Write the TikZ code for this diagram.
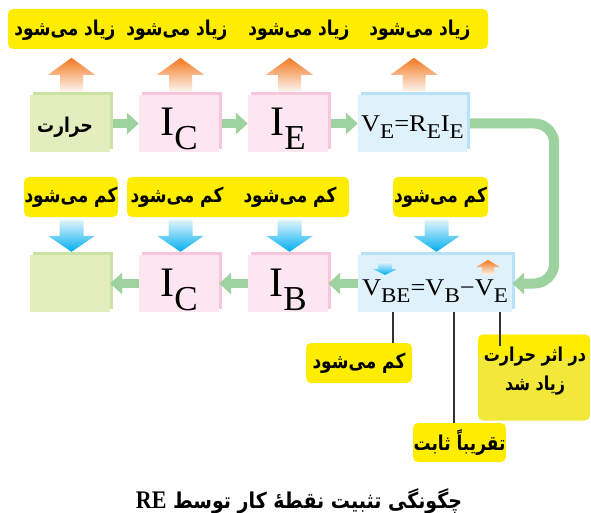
\documentclass[tikz,border=0pt]{standalone}
\usepackage{fontspec}
\setmainfont{Liberation Serif}
\newfontfamily\fafont[Script=Arabic]{DejaVu Sans}
\TeXXeTstate=1
\usetikzlibrary{arrows.meta,shadows}
\definecolor{yel}{RGB}{255,237,0}
\definecolor{yeldull}{RGB}{242,232,58}
\definecolor{grface}{RGB}{227,237,190}
\definecolor{gredge}{RGB}{203,226,165}
\definecolor{pkface}{RGB}{252,230,240}
\definecolor{pkedge}{RGB}{247,198,220}
\definecolor{blface}{RGB}{223,242,251}
\definecolor{bledge}{RGB}{184,227,247}
\definecolor{flow}{RGB}{157,210,158}
\definecolor{orng}{RGB}{243,120,32}
\definecolor{cyn}{RGB}{0,174,239}
\newcommand{\dn}[1]{\raisebox{-7pt}{\fontsize{21}{21}\selectfont #1}}
\newcommand{\bigdn}[1]{\raisebox{-14pt}{\fontsize{35}{35}\selectfont #1}}
\newcommand{\fatx}[1]{\scalebox{1}[1.2]{\beginR #1\endR}}

\begin{document}
\begin{tikzpicture}[x=1pt,y=1pt,
    blk/.style={fill=#1face, minimum height=57pt, inner sep=0pt,
      general shadow={shadow xshift=3pt, shadow yshift=3pt, fill=#1edge}},
    big/.style={font=\fontsize{42}{42}\selectfont, text height=35pt, text depth=10pt},
    frm/.style={font=\fontsize{24}{24}\selectfont},
    flowarr/.style={line width=9pt, flow, -{Triangle[length=12pt,width=21pt]}},
    tag/.style={fill=yel, rounded corners=5pt, inner sep=0pt},
    fa/.style={font=\fafont\bfseries\fontsize{17}{20}\selectfont},
    lead/.style={black!80, line width=1.3pt},
    up/.style={top color=orng, bottom color=orng!6},
    down/.style={top color=cyn!12, bottom color=cyn}]
  \useasboundingbox (0,0) rectangle (591,-513);

  % top row
  \node[blk=gr, minimum width=80pt, font=\fafont\bfseries\fontsize{17}{17}\selectfont, text height=28pt, text depth=9pt]
    (heat) at (70,-123.5) {\hspace{-10pt}\fatx{حرارت}};
  \node[blk=pk, minimum width=80pt, big] (ic) at (179,-123.5) {I\bigdn{C}};
  \node[blk=pk, minimum width=80pt, big] (ie) at (288,-123.5) {I\bigdn{E}};
  \node[blk=bl, minimum width=109pt, frm, text height=27pt, text depth=10pt]
    (ve) at (412.5,-123.5) {\scalebox{1.1}[1]{V\dn{E}=R\dn{E}I\dn{E}}};

  \draw[flowarr, shorten <=3pt] (heat.east) -- (ic.west);
  \draw[flowarr, shorten <=3pt] (ic.east) -- (ie.west);
  \draw[flowarr, shorten <=3pt] (ie.east) -- (ve.west);

  \node[tag, minimum width=480pt, minimum height=40pt] (band) at (248,-29) {};
  \foreach \x/\n in {65/a,177/b,299/c,420/d}
    \node[fa] (more\n) at (\x,-30) {\fatx{زیاد می^^^^200cشود}};
  \foreach \b in {heat,ic,ie,ve}
    \shade[up] ([xshift=-10pt,yshift=3pt]\b.north) -- ++(0,17) -- ++(-12,0) -- ++(23.5,17)
      -- ++(23.5,-17) -- ++(-12,0) -- ++(0,-17) -- cycle;

  % bottom row
  \node[blk=gr, minimum width=80pt] (res) at (70,-283.5) {};
  \node[blk=pk, minimum width=80pt, big] (icb) at (179,-283.5) {I\bigdn{C}};
  \node[blk=pk, minimum width=80pt, big] (ib) at (288,-283.5) {I\bigdn{B}};
  \node[blk=bl, minimum width=154pt, frm, text height=30pt, text depth=7pt]
    (vbe) at (435,-283.5) {\scalebox{1.1}[1]{V\dn{BE}=V\dn{B}^^^^2212V\dn{E}}};

  \draw[flowarr] (icb.west) -- (res.east);
  \draw[flowarr] (ib.west) -- (icb.east);
  \draw[flowarr] (vbe.west) -- (ib.east);
  \draw[flowarr, line width=10pt, rounded corners=20pt, shorten <=3pt]
    (ve.east) -| ([xshift=42pt]vbe.east) -- (vbe.east);

  \node[tag, minimum width=94pt, minimum height=40pt, fa] (less1) at (71,-197) {\fatx{کم می^^^^200cشود}};
  \node[tag, minimum width=222pt, minimum height=40pt] (less2) at (238,-197) {};
  \node[fa] (lessc) at (177,-197) {\fatx{کم می^^^^200cشود}};
  \node[fa] (lessb) at (290,-197) {\fatx{کم می^^^^200cشود}};
  \node[tag, minimum width=95pt, minimum height=40pt, fa] (less3) at (440.5,-197) {\fatx{کم می^^^^200cشود}};
  \foreach \b in {res,icb,ib,vbe}
    \shade[down] ([xshift=1.5pt,yshift=3pt]\b.north) -- ++(-23.5,16) -- ++(11.5,0) -- ++(0,16)
      -- ++(24,0) -- ++(0,-16) -- ++(11.5,0) -- cycle;

  % small marks on the formula
  \shade[down] (385,-275) -- ++(-12,6) -- ++(5,0) -- ++(0,7) -- ++(14,0) -- ++(0,-7) -- ++(5,0) -- cycle;
  \shade[up] (482,-275) -- ++(0,8) -- ++(-6,0) -- ++(12,7) -- ++(12,-7) -- ++(-6,0) -- ++(0,-8) -- cycle;

  % notes
  \coordinate (pbe) at (393,-312);
  \coordinate (pb) at (454,-312);
  \coordinate (pe) at (500,-312);
  \node[tag, minimum width=106pt, minimum height=40pt, fa] (less) at (359,-363) {\fatx{کم می^^^^200cشود}};
  \node[tag, minimum width=93pt, minimum height=39pt, fa] (flat) at (459.5,-442.5) {\fatx{تقریباً ثابت}};
  \node[tag, fill=yeldull, minimum width=112pt, minimum height=86pt,
    path picture={\fill[yel] (path picture bounding box.north west) rectangle ([yshift=-23pt]path picture bounding box.north east);}]
    (warm) at (534,-377.5) {};
  \draw[lead] (pbe) -- (pbe |- less.north);
  \draw[lead] (pb) -- (pb |- flat.north);
  \draw[lead, shorten >=-12pt] (pe) -- (pe |- warm.north);
  \node[font=\fafont\bfseries\fontsize{16}{29}\selectfont, align=center] (warmtxt) at (535,-371)
    {\fatx{در اثر حرارت}\\\fatx{زیاد شد}};

  \node[font=\fafont\bfseries\fontsize{19}{22}\selectfont] (title) at (299,-501)
    {\scalebox{1}[1.15]{\beginR چگونگی تثبیت نقطهٔ کار توسط \beginL{\rmfamily\fontsize{22}{22}\selectfont RE}\endL\endR}};
\end{tikzpicture}
\end{document}
